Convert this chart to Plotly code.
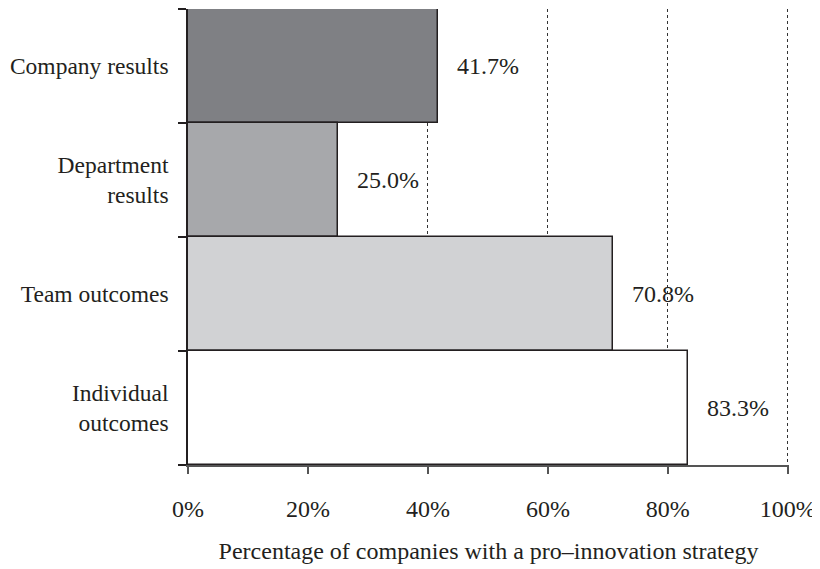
import plotly.graph_objects as go

categories = ["Company results", "Department<br>results", "Team outcomes", "Individual<br>outcomes"]
values = [41.7, 25.0, 70.8, 83.3]
labels = ["41.7%", "25.0%", "70.8%", "83.3%"]
colors = ["#7f8084", "#a7a8ab", "#d1d2d4", "#ffffff"]
x_ticks = [0, 20, 40, 60, 80, 100]
x_tick_labels = ["0%", "20%", "40%", "60%", "80%", "100%"]

ink = "#231f20"
font_family = "Liberation Serif, DejaVu Serif, serif"

fig = go.Figure()
fig.add_trace(go.Bar(
    x=values, y=categories, orientation="h",
    marker=dict(color=colors, line=dict(color=ink, width=1.5)),
    width=1.0, showlegend=False, hoverinfo="skip",
))

for v, c, t in zip(values, categories, labels):
    fig.add_annotation(x=v, y=c, xref="x", yref="y", text=t, showarrow=False,
                       xanchor="left", xshift=17, font=dict(size=24, color=ink, family=font_family))

fig.update_layout(
    width=812, height=561,
    margin=dict(l=180, r=31, t=1, b=104),
    paper_bgcolor="white", plot_bgcolor="white",
    bargap=0,
    font=dict(family=font_family, size=24, color=ink),
    xaxis=dict(
        range=[0, 100.2], tickvals=x_ticks, ticktext=x_tick_labels,
        showgrid=True, gridcolor="#333333", griddash="dot", gridwidth=1,
        zeroline=False, showline=True, linecolor="#555555", linewidth=1.5,
        ticks="outside", ticklen=7, tickcolor="#555555", tickwidth=1.5,
        ticklabelstandoff=14,
        title=dict(text="Percentage of companies with a pro–innovation strategy",
                   font=dict(size=24, color=ink), standoff=22),
        fixedrange=True,
        automargin=False,
    ),
    yaxis=dict(
        categoryorder="array", categoryarray=categories[::-1],
        range=[-0.5, 3.5],
        showgrid=False, zeroline=False, showline=True, linecolor=ink, linewidth=1.5,
        ticks="outside", tickson="boundaries", ticklen=8, tickcolor=ink, tickwidth=1.5,
        ticklabelstandoff=13,
        tickfont=dict(size=23.5),
        fixedrange=True,
        automargin=False,
    ),
)

fig.write_html("out.html")
